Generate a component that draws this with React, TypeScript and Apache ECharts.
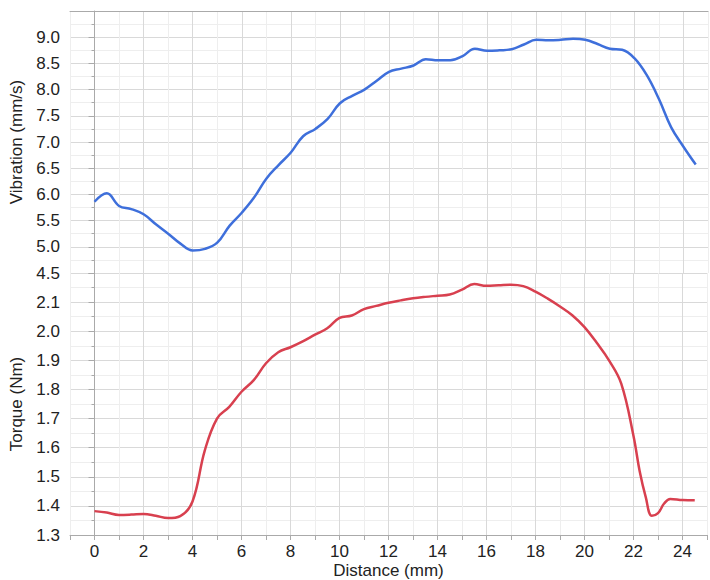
import React, { useEffect, useRef } from "react";
import * as echarts from "echarts";

const distance = [
  0, 0.5, 1, 1.5, 2, 2.5, 3, 3.5, 4, 4.5, 5, 5.5, 6, 6.5, 7, 7.5, 8, 8.5, 9, 9.5,
  10, 10.5, 11, 11.5, 12, 12.5, 13, 13.5, 14, 14.5, 15, 15.5, 16, 16.5, 17, 17.5,
  18, 18.5, 19, 19.5, 20, 20.5, 21, 21.5, 22, 22.5, 23, 23.5, 24, 24.5,
];

const vibration = [
  5.86, 6.02, 5.78, 5.72, 5.62, 5.43, 5.25, 5.06, 4.93, 4.96, 5.08, 5.4, 5.65, 5.94,
  6.3, 6.56, 6.8, 7.11, 7.25, 7.44, 7.74, 7.88, 8.0, 8.17, 8.34, 8.4, 8.46, 8.58,
  8.56, 8.56, 8.64, 8.78, 8.74, 8.75, 8.77, 8.86, 8.95, 8.94, 8.95, 8.97, 8.95, 8.87,
  8.78, 8.76, 8.6, 8.28, 7.82, 7.28, 6.91, 6.57,
];

const torqueDistance = [
  0, 0.5, 1, 1.5, 2, 2.5, 3, 3.5, 4, 4.5, 5, 5.5, 6, 6.5, 7, 7.5, 8, 8.5, 9, 9.5,
  10, 10.5, 11, 11.5, 12, 12.5, 13, 13.5, 14, 14.5, 15, 15.5, 16, 16.5, 17, 17.5,
  18, 18.5, 19, 19.5, 20, 20.5, 21, 21.5, 22, 22.25, 22.5, 22.75, 23, 23.25, 23.5,
  24, 24.5,
];

const torque = [
  1.382, 1.377, 1.369, 1.37, 1.372, 1.366, 1.358, 1.365, 1.415, 1.59, 1.7, 1.74,
  1.792, 1.832, 1.89, 1.928, 1.945, 1.965, 1.988, 2.01, 2.046, 2.054, 2.076, 2.087,
  2.098, 2.106, 2.113, 2.118, 2.122, 2.126, 2.143, 2.162, 2.156, 2.158, 2.16, 2.155,
  2.136, 2.112, 2.085, 2.055, 2.014, 1.96, 1.9, 1.82, 1.64, 1.52, 1.43, 1.366, 1.375,
  1.408, 1.424, 1.42, 1.419,
];

const FONT = "'Liberation Sans', Arial, Helvetica, sans-serif";
const TEXT = "#222";
const AXIS = "#aaaaaa";
const MAJOR = "#d9d9d9";
const MINOR = "#eeeeee";

export default function App() {
  const ref = useRef<HTMLDivElement>(null);

  useEffect(() => {
    if (!ref.current) return;
    const chart = echarts.init(ref.current, undefined, { renderer: "svg" });

    const xCommon = {
      type: "value" as const,
      min: -1,
      max: 25,
      interval: 1,
      splitLine: { show: true, lineStyle: { color: [MINOR, MAJOR], width: 1 } },
    };

    chart.setOption({
      animation: false,
      backgroundColor: "#fff",
      textStyle: { fontFamily: FONT },
      grid: [
        { left: 70, right: 2, top: 11, height: 262 },
        { left: 70, right: 2, top: 273, height: 263 },
      ],
      xAxis: [
        {
          ...xCommon,
          gridIndex: 0,
          position: "top",
          axisLine: { show: true, lineStyle: { color: AXIS } },
          axisTick: { show: false },
          axisLabel: { show: false },
        },
        {
          ...xCommon,
          gridIndex: 1,
          position: "bottom",
          name: "Distance (mm)",
          nameLocation: "middle",
          nameGap: 27,
          nameTextStyle: { color: TEXT, fontSize: 17, fontFamily: FONT },
          axisLine: { show: true, lineStyle: { color: AXIS } },
          axisTick: { show: true, length: 5, lineStyle: { color: AXIS } },
          axisLabel: {
            color: TEXT,
            fontSize: 17,
            fontFamily: FONT,
            margin: 8,
            formatter: (v: number) => (Math.round(v) % 2 === 0 ? String(Math.round(v)) : ""),
          },
        },
      ],
      yAxis: [
        {
          type: "value",
          gridIndex: 0,
          min: 4.5,
          max: 9.5,
          interval: 0.5,
          name: "Vibration (mm/s)",
          nameLocation: "middle",
          nameGap: 43,
          nameTextStyle: { color: TEXT, fontSize: 17, fontFamily: FONT },
          axisLine: { show: true, lineStyle: { color: AXIS } },
          axisTick: { show: true, length: 6, lineStyle: { color: AXIS } },
          minorTick: { show: true, splitNumber: 2, length: 3, lineStyle: { color: AXIS } },
          splitLine: { show: true, lineStyle: { color: MAJOR } },
          minorSplitLine: { show: true, lineStyle: { color: MINOR } },
          axisLabel: {
            color: TEXT,
            fontSize: 17,
            fontFamily: FONT,
            margin: 10,
            showMaxLabel: false,
            formatter: (v: number) => v.toFixed(1),
          },
        },
        {
          type: "value",
          gridIndex: 1,
          min: 1.3,
          max: 2.2,
          interval: 0.1,
          name: "Torque (Nm)",
          nameLocation: "middle",
          nameGap: 43,
          nameTextStyle: { color: TEXT, fontSize: 17, fontFamily: FONT },
          axisLine: { show: true, lineStyle: { color: AXIS } },
          axisTick: { show: true, length: 6, lineStyle: { color: AXIS } },
          minorTick: { show: true, splitNumber: 2, length: 3, lineStyle: { color: AXIS } },
          splitLine: { show: true, lineStyle: { color: MAJOR } },
          minorSplitLine: { show: true, lineStyle: { color: MINOR } },
          axisLabel: {
            color: TEXT,
            fontSize: 17,
            fontFamily: FONT,
            margin: 10,
            showMaxLabel: false,
            formatter: (v: number) => v.toFixed(1),
          },
        },
      ],
      series: [
        {
          type: "line",
          name: "Vibration",
          xAxisIndex: 0,
          yAxisIndex: 0,
          data: distance.map((d, i) => [d, vibration[i]]),
          smooth: 0.4,
          showSymbol: false,
          lineStyle: { color: "#3e6fdb", width: 2.5 },
          itemStyle: { color: "#3e6fdb" },
        },
        {
          type: "line",
          name: "Torque",
          xAxisIndex: 1,
          yAxisIndex: 1,
          data: torqueDistance.map((d, i) => [d, torque[i]]),
          smooth: 0.4,
          showSymbol: false,
          lineStyle: { color: "#d8404f", width: 2.5 },
          itemStyle: { color: "#d8404f" },
        },
      ],
    });

    return () => chart.dispose();
  }, []);

  return (
    <div
      ref={ref}
      style={{ position: "fixed", left: 0, top: 0, width: 710, height: 580 }}
    />
  );
}
